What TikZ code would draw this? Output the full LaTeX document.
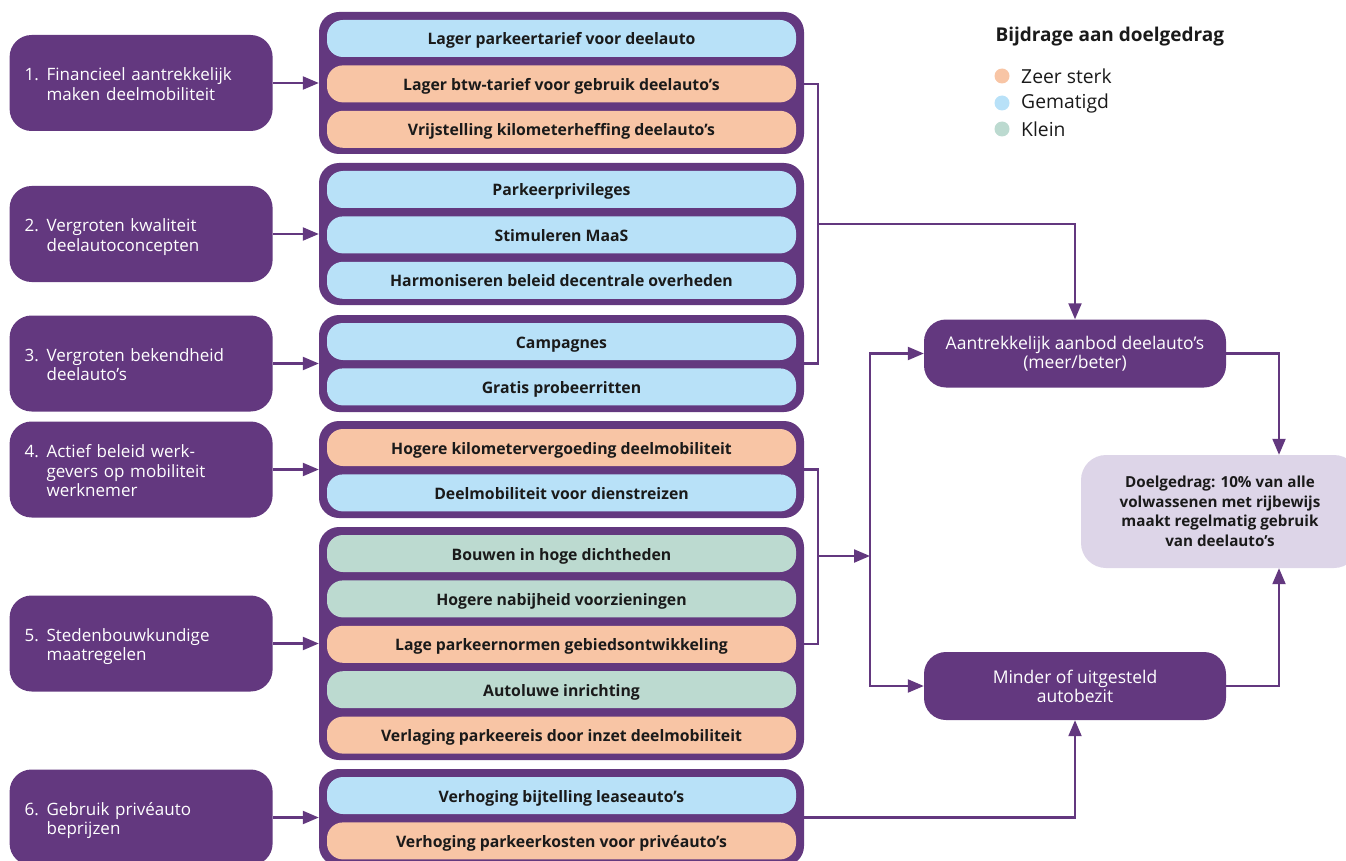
\documentclass[tikz,border=0pt]{standalone}
\usepackage{fontspec}
\setmainfont{Open Sans}
\usetikzlibrary{positioning,arrows.meta}

\definecolor{paars}{HTML}{63387F}
\definecolor{zalm}{HTML}{F8C5A5}
\definecolor{lichtblauw}{HTML}{B8E1F8}
\definecolor{mint}{HTML}{BCDAD0}
\definecolor{lila}{HTML}{DDD5E8}
\definecolor{tekst}{HTML}{1A1A1A}

\newcommand{\maatregel}[2]{\begin{tabular}{@{}p{22pt}@{}l@{}}\rule{0pt}{21pt}#1&#2\end{tabular}}

\begin{document}
\begin{tikzpicture}[
			x=1pt, y=-1pt,
			lbox/.style={rectangle, fill=paars, text=white, rounded corners=22pt, minimum width=263pt, minimum height=96pt, text width=233pt, inner xsep=15pt, align=left, font=\fontsize{17}{19.3}\selectfont},
			groep/.style={rectangle, fill=paars, rounded corners=20pt, minimum width=485pt},
			pill/.style={rectangle, rounded corners=16pt, minimum width=469pt, minimum height=37pt, inner sep=0pt, text height=13pt, text depth=0pt, text=tekst, font=\fontsize{15.8}{18}\selectfont\bfseries},
			effect/.style={rectangle, fill=paars, text=white, rounded corners=22pt, minimum width=302pt, minimum height=68pt, align=center, font=\fontsize{17.5}{19}\selectfont},
			doelbox/.style={rectangle, fill=lila, text=tekst, rounded corners=25pt, minimum width=278pt, minimum height=113pt, align=center, font=\fontsize{15.2}{19.5}\selectfont\bfseries},
			dot/.style={circle, minimum size=15pt, inner sep=0pt},
			legtxt/.style={anchor=west, text=tekst, font=\fontsize{19.3}{22}\selectfont},
			lijn/.style={line width=2.2pt, draw=paars},
			arrow/.style={-{Triangle[length=16pt,width=13pt]}, line width=2.2pt, draw=paars}
		]
		\useasboundingbox (0,0) rectangle (1346,861);

		% groepen met maatregelen
		\node[groep, minimum height=142pt] (g1) at (561.5,83) {};
		\node[pill, fill=lichtblauw, below=8pt of g1.north] (p11) {Lager parkeertarief voor deelauto};
		\node[pill, fill=zalm, below=8pt of p11] (p12) {Lager btw-tarief voor gebruik deelauto’s};
		\node[pill, fill=zalm, below=8pt of p12] (p13) {Vrijstelling kilometerheffing deelauto’s};

		\node[groep, minimum height=142pt] (g2) at (561.5,234) {};
		\node[pill, fill=lichtblauw, below=8pt of g2.north] (p21) {Parkeerprivileges};
		\node[pill, fill=lichtblauw, below=8pt of p21] (p22) {Stimuleren MaaS};
		\node[pill, fill=lichtblauw, below=8pt of p22] (p23) {Harmoniseren beleid decentrale overheden};

		\node[groep, minimum height=97pt] (g3) at (561.5,363.5) {};
		\node[pill, fill=lichtblauw, below=8pt of g3.north] (p31) {Campagnes};
		\node[pill, fill=lichtblauw, below=8pt of p31] (p32) {Gratis probeerritten};

		\node[groep, minimum height=97pt] (g4) at (561.5,469.5) {};
		\node[pill, fill=zalm, below=8pt of g4.north] (p41) {Hogere kilometervergoeding deelmobiliteit};
		\node[pill, fill=lichtblauw, below=8pt of p41] (p42) {Deelmobiliteit voor dienstreizen};

		\node[groep, minimum height=233pt] (g5) at (561.5,643.5) {};
		\node[pill, fill=mint, below=8pt of g5.north] (p51) {Bouwen in hoge dichtheden};
		\node[pill, fill=mint, below=8pt of p51] (p52) {Hogere nabijheid voorzieningen};
		\node[pill, fill=zalm, below=8pt of p52] (p53) {Lage parkeernormen gebiedsontwikkeling};
		\node[pill, fill=mint, below=8pt of p53] (p54) {Autoluwe inrichting};
		\node[pill, fill=zalm, below=8pt of p54] (p55) {Verlaging parkeereis door inzet deelmobiliteit};

		\node[groep, minimum height=97pt] (g6) at (561.5,817.5) {};
		\node[pill, fill=lichtblauw, below=8pt of g6.north] (p61) {Verhoging bijtelling leaseauto’s};
		\node[pill, fill=zalm, below=8pt of p61] (p62) {Verhoging parkeerkosten voor privéauto’s};

		% strategieen links
		\node[lbox, left=46pt of g1] (s1) {\maatregel{1.}{Financieel aantrekkelijk\\&maken deelmobiliteit}};
		\node[lbox, left=46pt of g2] (s2) {\maatregel{2.}{Vergroten kwaliteit\\&deelautoconcepten}};
		\node[lbox, left=46pt of g3] (s3) {\maatregel{3.}{Vergroten bekendheid\\&deelauto’s}};
		\node[lbox, left=46pt of g4] (s4) {\maatregel{4.}{Actief beleid werk-\\&gevers op mobiliteit\\&werknemer}};
		\node[lbox, left=46pt of g5] (s5) {\maatregel{5.}{Stedenbouwkundige\\&maatregelen}};
		\node[lbox, left=46pt of g6] (s6) {\maatregel{6.}{Gebruik privéauto\\&beprijzen}};

		% effecten en doel
		\node[effect] (aan) at (1075,353.5) {Aantrekkelijk aanbod deelauto’s\\(meer/beter)};
		\node[effect] (min) at (1075,686) {Minder of uitgesteld\\autobezit};
		\node[doelbox] (doel) at (1220,511.5) {Doelgedrag: 10\% van alle\\volwassenen met rijbewijs\\maakt regelmatig gebruik\\van deelauto’s};

		% legenda
		\node[anchor=west, text=tekst, font=\fontsize{19}{22}\selectfont\bfseries] (legtitel) at (992,37) {Bijdrage aan doelgedrag};
		\node[dot, fill=zalm] (d1) at (1002,76) {};
		\node[dot, fill=lichtblauw] (d2) at (1002,103) {};
		\node[dot, fill=mint] (d3) at (1002,129) {};
		\node[legtxt, right=8pt of d1] (l1) {Zeer sterk};
		\node[legtxt, right=8pt of d2] (l2) {Gematigd};
		\node[legtxt, right=8pt of d3] (l3) {Klein};

		% pijlen
		\draw[arrow] (s1.east) -- (s1.east -| g1.west);
		\draw[arrow] (s2.east) -- (s2.east -| g2.west);
		\draw[arrow] (s3.east) -- (s3.east -| g3.west);
		\draw[arrow] (s4.east) -- (s4.east -| g4.west);
		\draw[arrow] (s5.east) -- (s5.east -| g5.west);
		\draw[arrow] (s6.east) -- (s6.east -| g6.west);

		\coordinate (k1) at (818,224);
		\coordinate (k2) at (818,556);
		\coordinate (j) at (870,556);
		\coordinate (dx) at (1279,0);

		\draw[lijn] (g1.east |- p12) -| (k1) |- (g3.east);
		\draw[arrow] (k1) -| (aan.north);
		\draw[lijn] (g4.east) -| (k2) |- (g5.east |- p53);
		\draw[arrow] (k2) -- (j);
		\draw[arrow] (j) |- (aan.west);
		\draw[arrow] (j) |- (min.west);
		\draw[arrow] (g6.east) -| (min.south);
		\draw[arrow] (aan.east) -| (dx |- doel.north);
		\draw[arrow] (min.east) -| (dx |- doel.south);
	\end{tikzpicture}
\end{document}
